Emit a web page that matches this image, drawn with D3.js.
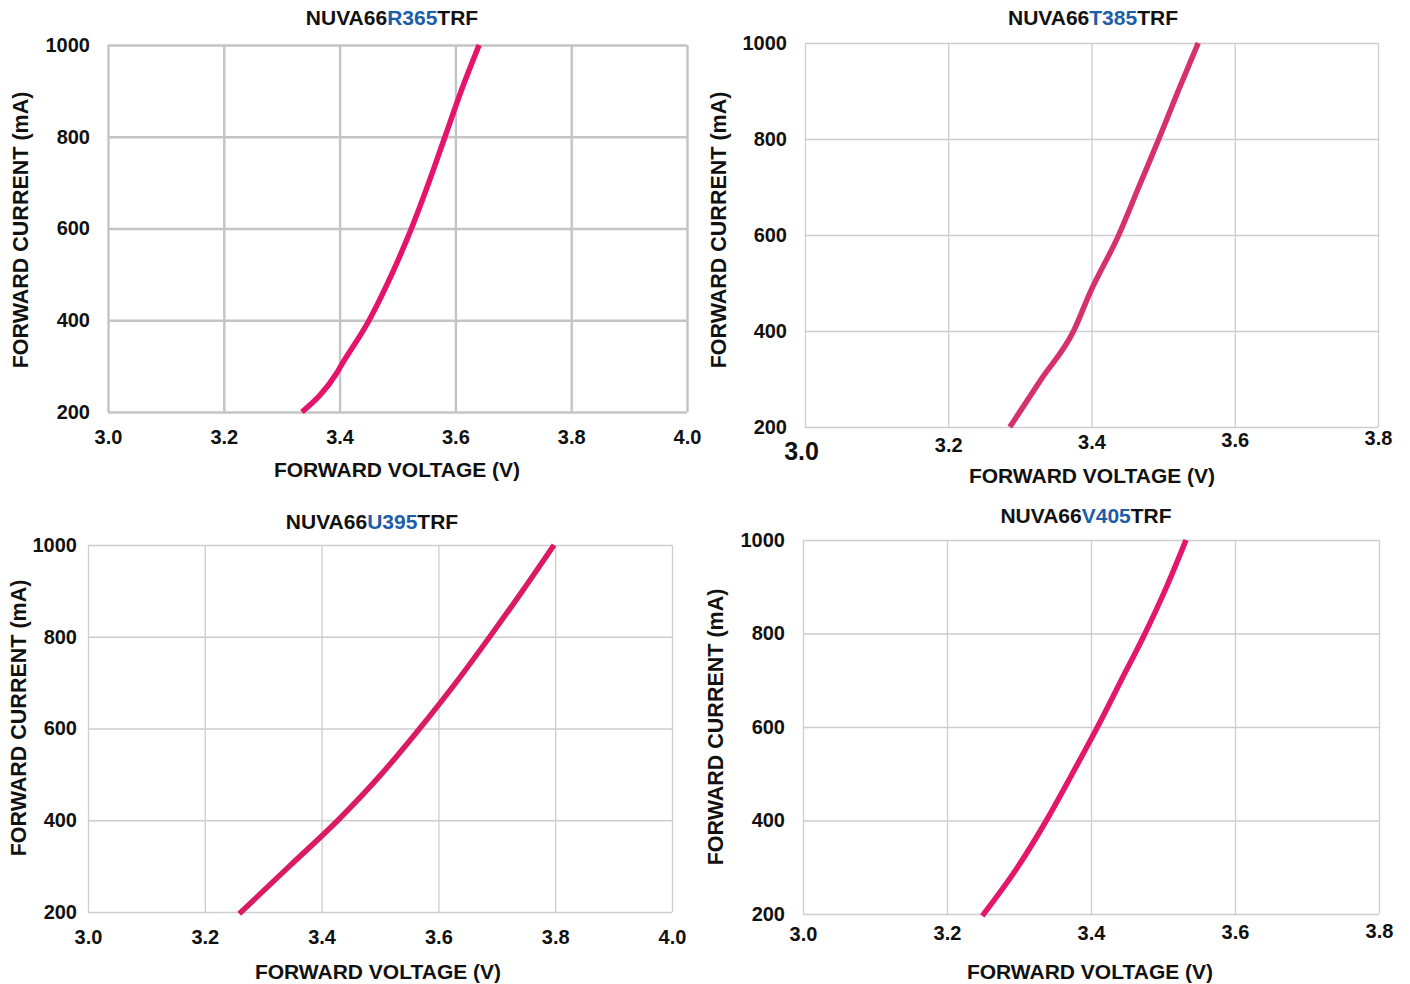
<!DOCTYPE html>
<html>
<head>
<meta charset="utf-8">
<script src="https://cdn.jsdelivr.net/npm/d3@7"></script>
<style>
body { margin: 0; background: #fff; }
text { font-family: "Liberation Sans", Arial, sans-serif; font-weight: bold; }
</style>
</head>
<body>
<div id="chart"></div>
<script>
// tick values
const xTicksWide = [3.0, 3.2, 3.4, 3.6, 3.8, 4.0]
const xTicksNarrow = [3.0, 3.2, 3.4, 3.6, 3.8]
const yTicks = [200, 400, 600, 800, 1000]

// forward voltage (V) vs forward current (mA)
const r365Volt = [3.335, 3.395, 3.402, 3.451, 3.490, 3.524, 3.554, 3.582, 3.610, 3.641]
const r365Curr = [200, 285, 300, 400, 500, 600, 700, 800, 900, 1000]

const t385Volt = [3.286, 3.330, 3.375, 3.398, 3.438, 3.466, 3.494, 3.521, 3.549]
const t385Curr = [200, 300, 400, 480, 600, 700, 800, 900, 1000]

const u395Volt = [3.259, 3.345, 3.428, 3.502, 3.568, 3.630, 3.688, 3.744, 3.798]
const u395Curr = [196, 300, 400, 500, 600, 700, 800, 900, 1000]

const v405Volt = [3.249, 3.298, 3.338, 3.374, 3.409, 3.442, 3.475, 3.505, 3.532]
const v405Curr = [196, 300, 400, 500, 600, 700, 800, 900, 1000]

const titles = [["NUVA66", "R365", "TRF"], ["NUVA66", "T385", "TRF"], ["NUVA66", "U395", "TRF"], ["NUVA66", "V405", "TRF"]]

const W = 1410, H = 984
const blue = "#1c5ea8"

const panels = [
    {title: titles[0], volt: r365Volt, curr: r365Curr, xMax: 4.0, xTicks: xTicksWide, color: "#e5136b",
     l: 108, r: 687, t: 45, b: 412, grid: "#c4c4c4", gridW: 2.4, yGap: 18, xOff: 25, tilt: 0, bigFirst: false,
     titleX: 392, titleY: 25, xtX: 397, xtY: 477, ytX: 20, ytY: 230},
    {title: titles[1], volt: t385Volt, curr: t385Curr, xMax: 3.8, xTicks: xTicksNarrow, color: "#d7316d",
     l: 805, r: 1378, t: 43, b: 427, grid: "#cdcdcd", gridW: 1.3, yGap: 18, xOff: 20, tilt: 0.0163, bigFirst: true,
     titleX: 1093, titleY: 25, xtX: 1092, xtY: 483, ytX: 718, ytY: 230},
    {title: titles[2], volt: u395Volt, curr: u395Curr, xMax: 4.0, xTicks: xTicksWide, color: "#da1b63",
     l: 88, r: 672, t: 545, b: 912, grid: "#cdcdcd", gridW: 1.3, yGap: 11, xOff: 25, tilt: 0, bigFirst: false,
     titleX: 372, titleY: 529, xtX: 378, xtY: 979, ytX: 18, ytY: 718},
    {title: titles[3], volt: v405Volt, curr: v405Curr, xMax: 3.8, xTicks: xTicksNarrow, color: "#e3176b",
     l: 803, r: 1379, t: 540, b: 914, grid: "#cdcdcd", gridW: 1.3, yGap: 18, xOff: 20, tilt: 0.005, bigFirst: false,
     titleX: 1086, titleY: 523, xtX: 1090, xtY: 979, ytX: 715, ytY: 727}
]

const svg = d3.select("#chart").append("svg")
    .attr("width", W).attr("height", H)
    .attr("viewBox", `0 0 ${W} ${H}`)

svg.append("rect").attr("width", W).attr("height", H).attr("fill", "#fff")

panels.forEach(p => {
    const x = d3.scaleLinear().domain([3.0, p.xMax]).range([p.l, p.r])
    const y = d3.scaleLinear().domain([200, 1000]).range([p.b, p.t])
    const g = svg.append("g")

    // horizontal grid + y labels
    const ya = g.append("g")
        .attr("transform", `translate(${p.l},0)`)
        .call(d3.axisLeft(y).tickValues(yTicks).tickSize(-(p.r - p.l)).tickPadding(p.yGap).tickFormat(d3.format("d")))
    ya.select(".domain").remove()
    ya.selectAll("line").attr("stroke", p.grid).attr("stroke-width", p.gridW)
    ya.selectAll("text").attr("font-size", 20).attr("fill", "#111")
        .attr("font-family", "'Liberation Sans', Arial, sans-serif").attr("font-weight", "bold")

    // vertical grid + x labels
    const xa = g.append("g")
        .attr("transform", `translate(0,${p.b})`)
        .call(d3.axisBottom(x).tickValues(p.xTicks).tickSize(-(p.b - p.t)).tickFormat(d3.format(".1f")))
    xa.select(".domain").remove()
    xa.selectAll("line").attr("stroke", p.grid).attr("stroke-width", p.gridW)
    xa.selectAll("text")
        .attr("y", d => p.xOff - p.tilt * (x(d) - p.l))
        .attr("dy", "0.35em")
        .attr("font-size", (d, i) => (p.bigFirst && i === 0) ? 25 : 20)
        .attr("fill", "#111")
        .attr("font-family", "'Liberation Sans', Arial, sans-serif").attr("font-weight", "bold")
    if (p.bigFirst) xa.selectAll("text").filter((d, i) => i === 0).attr("y", p.xOff + 4).attr("x", -4)

    // curve
    const pts = p.volt.map((v, i) => [v, p.curr[i]])
    g.append("path")
        .datum(pts)
        .attr("fill", "none")
        .attr("stroke", p.color)
        .attr("stroke-width", 5.5)
        .attr("d", d3.line().x(d => x(d[0])).y(d => y(d[1])).curve(d3.curveMonotoneX))

    // title
    const tt = g.append("text")
        .attr("x", p.titleX).attr("y", p.titleY)
        .attr("text-anchor", "middle")
        .attr("font-size", 21).attr("fill", "#111")
    tt.selectAll("tspan").data(p.title).join("tspan")
        .attr("fill", (d, i) => i === 1 ? blue : "#111")
        .text(d => d)

    // axis titles
    g.append("text")
        .attr("x", p.xtX).attr("y", p.xtY)
        .attr("text-anchor", "middle")
        .attr("font-size", 21).attr("fill", "#111")
        .text("FORWARD VOLTAGE (V)")

    g.append("text")
        .attr("transform", `translate(${p.ytX + 7.5},${p.ytY}) rotate(-90)`)
        .attr("text-anchor", "middle")
        .attr("font-size", 21.5).attr("fill", "#111")
        .text("FORWARD CURRENT (mA)")
})
</script>
</body>
</html>
